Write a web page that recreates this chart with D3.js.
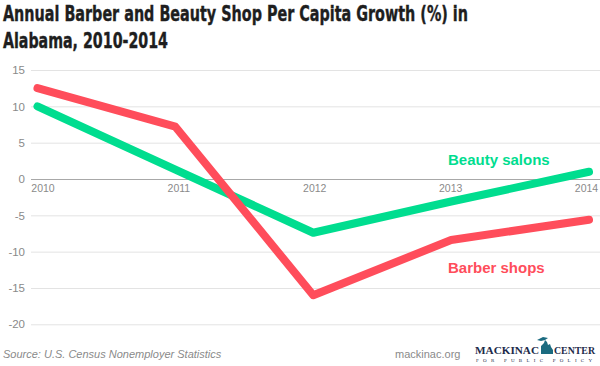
<!DOCTYPE html>
<html>
<head>
<meta charset="utf-8">
<script src="https://cdn.jsdelivr.net/npm/d3@7"></script>
<style>
  body { margin: 0; background: #fff; }
  svg { display: block; }
  .title { font-family: "DejaVu Sans Condensed", "Liberation Sans Narrow", sans-serif; font-stretch: condensed; font-weight: bold; font-size: 20px; fill: #1e1e1e; stroke: #1e1e1e; stroke-width: 0.35px; }
  .tick text { font-family: "Liberation Sans", Arial, sans-serif; fill: #8a8a8a; }
  .foot { font-family: "Liberation Sans", Arial, sans-serif; font-size: 11px; fill: #8a8a8a; }
</style>
</head>
<body>
<script>
//Consts/global variables
const w = 600;
const h = 366;

// data
const years = ["2010", "2011", "2012", "2013", "2014"];
const barberShops = [12.5, 7.2, -16.0, -8.4, -5.6];
const beautySalons = [10.0, 1.3, -7.4, -3.1, 1.0];
const yTicks = [15, 10, 5, 0, -5, -10, -15, -20];
const titleLines = ["Annual Barber and Beauty Shop Per Capita Growth (%) in", "Alabama, 2010-2014"];
const titleWidths = [465, 165];

const red = "#ff4d5b";
const green = "#00dd8f";

//scales
const xScale = d3.scalePoint()
                 .domain(years)
                 .range([37.5, 589]);

// labels sit a little to the right of the points at the left end
const xLabelScale = d3.scalePoint()
                      .domain(years)
                      .range([42.5, 586]);

const yScale = d3.scaleLinear()
                 .domain([-20, 15])
                 .range([324.3, 70]);

//SVG
const svg = d3.select("body")
              .append("svg")
              .attr("width", w)
              .attr("height", h);

//title (stretched a little vertically to match the tall condensed face)
svg.selectAll(".title")
   .data(titleLines)
   .enter()
   .append("text")
   .attr("class", "title")
   .attr("transform", "scale(1,1.08)")
   .attr("x", 3)
   .attr("y", (d, i) => (21 + i * 27) / 1.08)
   .attr("textLength", (d, i) => titleWidths[i])
   .attr("lengthAdjust", "spacingAndGlyphs")
   .text(d => d);

//grid + left axis labels
const leftAxis = d3.axisLeft()
                   .scale(yScale)
                   .tickValues(yTicks)
                   .tickFormat(d => String(d))
                   .tickSize(-(w - 31))
                   .tickPadding(6);

const yAxis = svg.append("g")
                 .attr("transform", "translate(31,0)")
                 .call(leftAxis);
yAxis.select(".domain").remove();
yAxis.selectAll(".tick line")
     .attr("stroke", d => d === 0 ? "#a8a8a8" : "#e3e3e3")
     .attr("stroke-width", d => d === 0 ? 1.2 : 1);
yAxis.selectAll(".tick text")
     .attr("font-size", 11.5)
     .attr("x", -6);

//bottom labels on the zero line
const bottomAxis = d3.axisBottom()
                     .scale(xLabelScale)
                     .tickSize(0)
                     .tickPadding(6);

const xAxis = svg.append("g")
                 .attr("transform", "translate(0," + yScale(0) + ")")
                 .call(bottomAxis);
xAxis.select(".domain").remove();
xAxis.selectAll(".tick text").attr("font-size", 10.5);

//lines
const line = d3.line()
               .x((d, i) => xScale(years[i]))
               .y(d => yScale(d));

svg.append("path")
   .datum(beautySalons)
   .attr("d", line)
   .attr("fill", "none")
   .attr("stroke", green)
   .attr("stroke-width", 8)
   .attr("stroke-linecap", "round")
   .attr("stroke-linejoin", "round");

svg.append("path")
   .datum(barberShops)
   .attr("d", line)
   .attr("fill", "none")
   .attr("stroke", red)
   .attr("stroke-width", 8)
   .attr("stroke-linecap", "round")
   .attr("stroke-linejoin", "round");

//series labels
svg.append("text")
   .attr("x", 448)
   .attr("y", 165)
   .attr("font-family", "Liberation Sans, Arial, sans-serif")
   .attr("font-weight", "bold")
   .attr("font-size", 15)
   .attr("fill", green)
   .text("Beauty salons");

svg.append("text")
   .attr("x", 448)
   .attr("y", 273)
   .attr("font-family", "Liberation Sans, Arial, sans-serif")
   .attr("font-weight", "bold")
   .attr("font-size", 15)
   .attr("fill", red)
   .text("Barber shops");

//footer
svg.append("text")
   .attr("class", "foot")
   .attr("x", 3)
   .attr("y", 358)
   .attr("font-style", "italic")
   .text("Source: U.S. Census Nonemployer Statistics");

svg.append("text")
   .attr("class", "foot")
   .attr("x", 395)
   .attr("y", 358)
   .text("mackinac.org");

//logo
const logo = svg.append("g").attr("transform", "translate(475,0)");
logo.append("text")
    .attr("x", 0)
    .attr("y", 354)
    .attr("font-family", "Liberation Serif, serif")
    .attr("font-weight", "bold")
    .attr("font-size", 11)
    .attr("fill", "#1c2b4a")
    .attr("textLength", 64)
    .attr("lengthAdjust", "spacingAndGlyphs")
    .text("MACKINAC");
logo.append("path")
    .attr("d", "M66,354 L66,346 L69,343 L70,340 L72,342 L73,345 L75,344 L76,347 L78,350 L78,354 Z M62,340 L68,337 L73,338 L70,340 L66,341 Z")
    .attr("fill", "#1b6b80");
logo.append("text")
    .attr("x", 79)
    .attr("y", 354)
    .attr("font-family", "Liberation Serif, serif")
    .attr("font-weight", "bold")
    .attr("font-size", 10.5)
    .attr("fill", "#1c2b4a")
    .attr("textLength", 41)
    .attr("lengthAdjust", "spacingAndGlyphs")
    .text("CENTER");
logo.append("text")
    .attr("x", 1)
    .attr("y", 362)
    .attr("font-family", "Liberation Serif, serif")
    .attr("font-size", 5)
    .attr("fill", "#1c2b4a")
    .attr("textLength", 116)
    .attr("lengthAdjust", "spacing")
    .text("FOR PUBLIC POLICY");
</script>
</body>
</html>
